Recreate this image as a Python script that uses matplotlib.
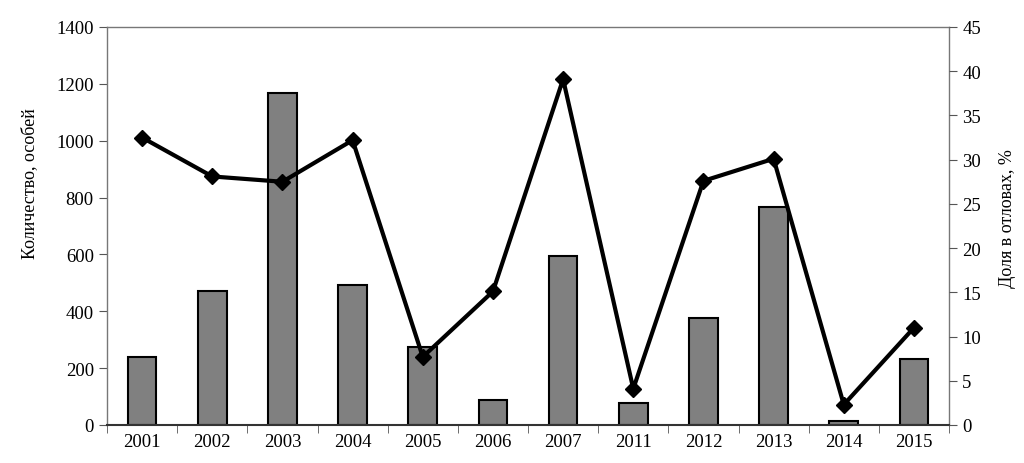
import matplotlib.pyplot as plt
import numpy as np

years = ['2001', '2002', '2003', '2004', '2005', '2006', '2007',
         '2011', '2012', '2013', '2014', '2015']
counts = [238, 471, 1167, 494, 275, 89, 593, 77, 375, 768, 15, 233]
share = [32.5, 28.1, 27.5, 32.2, 7.7, 15.1, 39.1, 4.1, 27.6, 30.1, 2.3, 11.0]

plt.rcParams['font.family'] = ['Liberation Serif', 'DejaVu Serif']
plt.rcParams['font.size'] = 13.5

fig = plt.figure(figsize=(10.24, 4.64), dpi=100)
ax = fig.add_axes([0.1045, 0.0819, 0.8223, 0.8578])
x = np.arange(len(years))

# bars - numbers, left axis
ax.bar(x, counts, width=0.41, color='#808080', edgecolor='black', linewidth=1.5, zorder=2)
ax.set_xlim(-0.5, len(years) - 0.5)
ax.set_ylim(0, 1400)
ax.set_yticks(range(0, 1401, 200))
ax.set_ylabel('Количество, особей', fontsize=13)
ax.yaxis.set_label_coords(-0.082, 0.61)

# category labels in the middle, tick marks between categories
ax.set_xticks(x)
ax.set_xticklabels(years)
ax.tick_params(axis='x', which='major', length=0, pad=6)
ax.set_xticks(np.arange(-0.5, len(years), 1.0), minor=True)
ax.tick_params(axis='x', which='minor', length=6, color='#555555', direction='out')
ax.tick_params(axis='y', length=6, color='#555555', direction='out')

for s in ax.spines.values():
    s.set_color('#777777')
    s.set_linewidth(1.0)
ax.spines['bottom'].set_color('#333333')
ax.spines['bottom'].set_linewidth(1.5)

# line - share, right axis
ax2 = ax.twinx()
ax2.plot(x, share, color='black', linewidth=3, marker='D', markersize=8, zorder=3)
ax2.set_ylim(0, 45)
ax2.set_yticks(range(0, 46, 5))
ax2.set_ylabel('Доля в отловах, %', fontsize=13)
ax2.yaxis.set_label_coords(1.059, 0.52)
ax2.tick_params(axis='y', length=6, color='#555555', direction='out')
for s in ax2.spines.values():
    s.set_visible(False)

fig.savefig('out.png', dpi=100)
